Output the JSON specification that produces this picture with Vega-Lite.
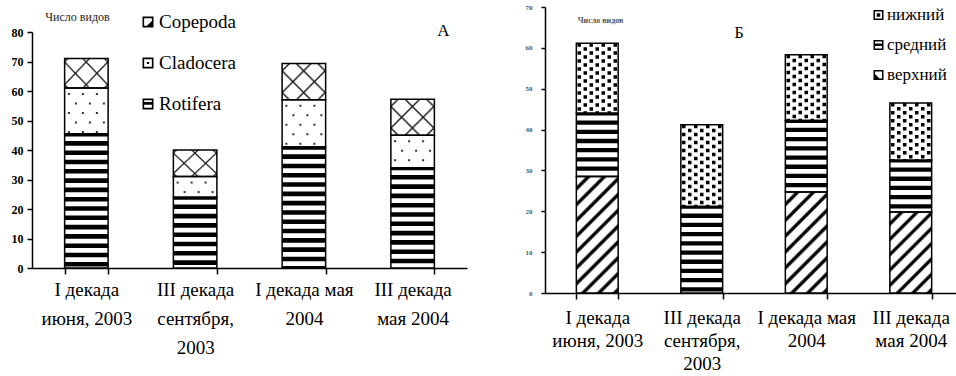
{
  "$schema": "https://vega.github.io/schema/vega-lite/v6.json",
  "width": 956,
  "height": 376,
  "autosize": {"type": "none"},
  "padding": 0,
  "background": "white",
  "config": {"view": {"stroke": null}, "font": "Times New Roman, Liberation Serif, serif"},
  "datasets": {
    "zoo": [
      {"period": "I  декада|июня, 2003", "group": "Rotifera", "n": 45.5},
      {"period": "I  декада|июня, 2003", "group": "Cladocera", "n": 15.5},
      {"period": "I  декада|июня, 2003", "group": "Copepoda", "n": 10},
      {"period": "III декада|сентября,|2003", "group": "Rotifera", "n": 24},
      {"period": "III декада|сентября,|2003", "group": "Cladocera", "n": 7},
      {"period": "III декада|сентября,|2003", "group": "Copepoda", "n": 9},
      {"period": "I декада мая|2004", "group": "Rotifera", "n": 41},
      {"period": "I декада мая|2004", "group": "Cladocera", "n": 16},
      {"period": "I декада мая|2004", "group": "Copepoda", "n": 12.3},
      {"period": "III декада|мая 2004", "group": "Rotifera", "n": 34},
      {"period": "III декада|мая 2004", "group": "Cladocera", "n": 11},
      {"period": "III декада|мая 2004", "group": "Copepoda", "n": 12.2}
    ],
    "depth": [
      {"period": "I  декада|июня, 2003", "level": "верхний", "n": 28.5},
      {"period": "I  декада|июня, 2003", "level": "средний", "n": 15.5},
      {"period": "I  декада|июня, 2003", "level": "нижний", "n": 17.1},
      {"period": "III декада|сентября,|2003", "level": "средний", "n": 21.2},
      {"period": "III декада|сентября,|2003", "level": "нижний", "n": 20},
      {"period": "I декада мая|2004", "level": "верхний", "n": 24.7},
      {"period": "I декада мая|2004", "level": "средний", "n": 17.5},
      {"period": "I декада мая|2004", "level": "нижний", "n": 16.1},
      {"period": "III декада|мая 2004", "level": "верхний", "n": 19.8},
      {"period": "III декада|мая 2004", "level": "средний", "n": 12.7},
      {"period": "III декада|мая 2004", "level": "нижний", "n": 14}
    ]
  },
  "layer": [
    {
      "data": {"name": "zoo"},
      "transform": [{"stack": "n", "groupby": ["period"], "as": ["y0", "y1"]}],
      "encoding": {
        "x": {
          "field": "period", "type": "nominal", "sort": null,
          "scale": {"range": [32, 467], "paddingInner": 0.6, "paddingOuter": 0.3},
          "axis": {
            "orient": "bottom", "offset": -108,
            "title": "А", "titleX": 443, "titleY": -238, "titleAngle": 0, "titleAlign": "center", "titleBaseline": "middle",
            "titleFont": "Times New Roman, Liberation Serif, serif", "titleFontSize": 17, "titleFontWeight": "normal", "titleColor": "black",
            "labelExpr": "split(datum.label, '|')", "labelAngle": 0, "labelFont": "Times New Roman, Liberation Serif, serif", "labelFontSize": 19,
            "labelLineHeight": 29, "labelColor": "black", "labelPadding": 6, "labelBaseline": "top", "labelLimit": 0,
            "domainColor": "black", "domainWidth": 1.5, "tickColor": "black", "tickWidth": 1.5, "tickSize": 6,
            "tickBand": "extent", "grid": false
          }
        },
        "y": {
          "field": "y1", "type": "quantitative",
          "scale": {"domain": [0, 80], "range": [268, 32], "nice": false},
          "axis": {
            "orient": "left", "offset": -32, "values": [0, 10, 20, 30, 40, 50, 60, 70, 80],
            "title": "Число видов", "titleX": 45, "titleY": 16, "titleAngle": 0, "titleAlign": "center", "titleBaseline": "middle",
            "titleFont": "Times New Roman, Liberation Serif, serif", "titleFontSize": 12, "titleFontWeight": "normal", "titleColor": "#222",
            "labelFont": "Times New Roman, Liberation Serif, serif", "labelFontSize": 12, "labelFontWeight": "bold", "labelColor": "black", "labelPadding": 4,
            "tickSize": 5, "tickColor": "black", "tickWidth": 1.5, "domainColor": "black", "domainWidth": 1.5, "grid": false
          }
        },
        "y2": {"field": "y0"}
      },
      "layer": [
        {"mark": {"type": "bar", "fill": "white", "stroke": null}},
        {"transform": [{"filter": "datum.group === 'Rotifera'"}],
         "mark": {"type": "rule", "color": "black", "strokeWidth": 43.5, "strokeDash": [4.6, 4.7], "strokeDashOffset": 2, "strokeCap": "butt"}},
        {"transform": [{"filter": "datum.group === 'Cladocera'"}],
         "mark": {"type": "rule", "color": "#333", "strokeWidth": 2, "strokeDash": [2, 17], "strokeDashOffset": 14, "xOffset": -17.5}},
        {"transform": [{"filter": "datum.group === 'Cladocera'"}],
         "mark": {"type": "rule", "color": "#333", "strokeWidth": 2, "strokeDash": [2, 17], "strokeDashOffset": 4.5, "xOffset": -10.5}},
        {"transform": [{"filter": "datum.group === 'Cladocera'"}],
         "mark": {"type": "rule", "color": "#333", "strokeWidth": 2, "strokeDash": [2, 17], "strokeDashOffset": 14, "xOffset": -3.5}},
        {"transform": [{"filter": "datum.group === 'Cladocera'"}],
         "mark": {"type": "rule", "color": "#333", "strokeWidth": 2, "strokeDash": [2, 17], "strokeDashOffset": 4.5, "xOffset": 3.5}},
        {"transform": [{"filter": "datum.group === 'Cladocera'"}],
         "mark": {"type": "rule", "color": "#333", "strokeWidth": 2, "strokeDash": [2, 17], "strokeDashOffset": 14, "xOffset": 10.5}},
        {"transform": [{"filter": "datum.group === 'Cladocera'"}],
         "mark": {"type": "rule", "color": "#333", "strokeWidth": 2, "strokeDash": [2, 17], "strokeDashOffset": 4.5, "xOffset": 17.5}},
        {"transform": [{"filter": "datum.group === 'Copepoda'"}],
         "mark": {"type": "bar", "stroke": null},
         "encoding": {"fill": {
           "condition": {"test": "datum.period === 'I  декада|июня, 2003' || datum.period === 'III декада|сентября,|2003'",
             "value": {"gradient": "linear", "x1": 0, "y1": 0, "x2": 1.1622, "y2": 0.7481, "stops": [
               {"offset": 0.02, "color": "rgba(0,0,0,0)"}, {"offset": 0.045, "color": "#222"}, {"offset": 0.07, "color": "rgba(0,0,0,0)"},
               {"offset": 0.321, "color": "rgba(0,0,0,0)"}, {"offset": 0.346, "color": "#222"}, {"offset": 0.371, "color": "rgba(0,0,0,0)"},
               {"offset": 0.622, "color": "rgba(0,0,0,0)"}, {"offset": 0.647, "color": "#222"}, {"offset": 0.672, "color": "rgba(0,0,0,0)"},
               {"offset": 0.923, "color": "rgba(0,0,0,0)"}, {"offset": 0.948, "color": "#222"}, {"offset": 0.973, "color": "rgba(0,0,0,0)"}]}},
           "value": {"gradient": "linear", "x1": 0, "y1": 0, "x2": 1.0847, "y2": 0.8977, "stops": [
               {"offset": 0.066, "color": "rgba(0,0,0,0)"}, {"offset": 0.091, "color": "#222"}, {"offset": 0.116, "color": "rgba(0,0,0,0)"},
               {"offset": 0.337, "color": "rgba(0,0,0,0)"}, {"offset": 0.362, "color": "#222"}, {"offset": 0.387, "color": "rgba(0,0,0,0)"},
               {"offset": 0.607, "color": "rgba(0,0,0,0)"}, {"offset": 0.632, "color": "#222"}, {"offset": 0.657, "color": "rgba(0,0,0,0)"},
               {"offset": 0.878, "color": "rgba(0,0,0,0)"}, {"offset": 0.903, "color": "#222"}, {"offset": 0.928, "color": "rgba(0,0,0,0)"}]}
         }}},
        {"transform": [{"filter": "datum.group === 'Copepoda'"}],
         "mark": {"type": "bar", "stroke": null},
         "encoding": {"fill": {
           "condition": {"test": "datum.period === 'I  декада|июня, 2003' || datum.period === 'III декада|сентября,|2003'",
             "value": {"gradient": "linear", "x1": 0, "y1": 1, "x2": 1.1622, "y2": 0.2519, "stops": [
               {"offset": 0.02, "color": "rgba(0,0,0,0)"}, {"offset": 0.045, "color": "#222"}, {"offset": 0.07, "color": "rgba(0,0,0,0)"},
               {"offset": 0.321, "color": "rgba(0,0,0,0)"}, {"offset": 0.346, "color": "#222"}, {"offset": 0.371, "color": "rgba(0,0,0,0)"},
               {"offset": 0.622, "color": "rgba(0,0,0,0)"}, {"offset": 0.647, "color": "#222"}, {"offset": 0.672, "color": "rgba(0,0,0,0)"},
               {"offset": 0.923, "color": "rgba(0,0,0,0)"}, {"offset": 0.948, "color": "#222"}, {"offset": 0.973, "color": "rgba(0,0,0,0)"}]}},
           "value": {"gradient": "linear", "x1": 0, "y1": 1, "x2": 1.0847, "y2": 0.1023, "stops": [
               {"offset": 0.066, "color": "rgba(0,0,0,0)"}, {"offset": 0.091, "color": "#222"}, {"offset": 0.116, "color": "rgba(0,0,0,0)"},
               {"offset": 0.337, "color": "rgba(0,0,0,0)"}, {"offset": 0.362, "color": "#222"}, {"offset": 0.387, "color": "rgba(0,0,0,0)"},
               {"offset": 0.607, "color": "rgba(0,0,0,0)"}, {"offset": 0.632, "color": "#222"}, {"offset": 0.657, "color": "rgba(0,0,0,0)"},
               {"offset": 0.878, "color": "rgba(0,0,0,0)"}, {"offset": 0.903, "color": "#222"}, {"offset": 0.928, "color": "rgba(0,0,0,0)"}]}
         }}},
        {"mark": {"type": "bar", "fill": "white", "fillOpacity": 0, "stroke": "black", "strokeWidth": 1.5}},
        {"mark": {"type": "point", "filled": true, "color": "black", "opacity": 0},
         "encoding": {"y2": null, "shape": {"field": "group", "type": "nominal",
           "scale": {"domain": ["Copepoda", "Cladocera", "Rotifera"],
             "range": ["M-1,-1H1V1H-1Z M-0.7,-0.7V0.7H0.7V-0.7Z M0.7,-0.2L0.7,0.7L-0.2,0.7Z",
                       "M-1,-1H1V1H-1Z M-0.7,-0.7V0.7H0.7V-0.7Z M-0.2,-0.2H0.2V0.2H-0.2Z",
                       "M-1,-1H1V1H-1Z M-0.7,-0.7V0.7H0.7V-0.7Z M-0.7,-0.35H0.7V0.15H-0.7Z"]},
           "legend": {"title": null, "orient": "none", "legendX": 138.5, "legendY": 12.5, "symbolSize": 121,
             "symbolFillColor": "black", "symbolStrokeWidth": 0, "symbolOpacity": 1,
             "labelFont": "Times New Roman, Liberation Serif, serif", "labelFontSize": 19, "labelColor": "black", "labelOffset": 1.5,
             "rowPadding": 21, "labelLimit": 0, "padding": 0}}}}
      ]
    },
    {
      "data": {"name": "depth"},
      "transform": [{"stack": "n", "groupby": ["period"], "as": ["y0", "y1"]}],
      "encoding": {
        "x": {
          "field": "period", "type": "nominal", "sort": null,
          "scale": {"range": [545, 963], "paddingInner": 0.6, "paddingOuter": 0.3},
          "axis": {
            "orient": "bottom", "offset": -83,
            "title": "Б", "titleX": 738.5, "titleY": -260.5, "titleAngle": 0, "titleAlign": "center", "titleBaseline": "middle",
            "titleFont": "Times New Roman, Liberation Serif, serif", "titleFontSize": 16, "titleFontWeight": "normal", "titleColor": "black",
            "labelExpr": "split(datum.label, '|')", "labelAngle": 0, "labelFont": "Times New Roman, Liberation Serif, serif", "labelFontSize": 19,
            "labelLineHeight": 23, "labelColor": "black", "labelPadding": 9, "labelBaseline": "top", "labelLimit": 0,
            "domainColor": "black", "domainWidth": 1.5, "tickColor": "black", "tickWidth": 1.5, "tickSize": 6,
            "tickBand": "extent", "grid": false
          }
        },
        "y": {
          "field": "y1", "type": "quantitative",
          "scale": {"domain": [0, 70], "range": [293, 7], "nice": false},
          "axis": {
            "orient": "left", "offset": -545, "values": [0, 10, 20, 30, 40, 50, 60, 70],
            "title": "Число видов", "titleX": 55, "titleY": 20.5, "titleAngle": 0, "titleAlign": "center", "titleBaseline": "middle",
            "titleFont": "Times New Roman, Liberation Serif, serif", "titleFontSize": 8, "titleFontWeight": "bold", "titleColor": "#555",
            "labelFont": "Times New Roman, Liberation Serif, serif", "labelFontSize": 7, "labelFontWeight": "bold", "labelColor": "#555", "labelPadding": 9,
            "tickSize": 4, "tickColor": "black", "tickWidth": 1.5, "domainColor": "black", "domainWidth": 1.5, "grid": false
          }
        },
        "y2": {"field": "y0"}
      },
      "layer": [
        {"mark": {"type": "bar", "fill": "white", "stroke": null}},
        {"transform": [{"filter": "datum.level === 'средний'"}],
         "mark": {"type": "rule", "color": "black", "strokeWidth": 41.8, "strokeDash": [4.3, 4.9], "strokeDashOffset": 2, "strokeCap": "butt"}},
        {"transform": [{"filter": "datum.level === 'нижний'"}],
         "mark": {"type": "rule", "color": "black", "strokeWidth": 3.5, "strokeDash": [3.5, 4.5], "strokeDashOffset": 0, "xOffset": -18}},
        {"transform": [{"filter": "datum.level === 'нижний'"}],
         "mark": {"type": "rule", "color": "black", "strokeWidth": 3.5, "strokeDash": [3.5, 4.5], "strokeDashOffset": 4, "xOffset": -12}},
        {"transform": [{"filter": "datum.level === 'нижний'"}],
         "mark": {"type": "rule", "color": "black", "strokeWidth": 3.5, "strokeDash": [3.5, 4.5], "strokeDashOffset": 0, "xOffset": -6}},
        {"transform": [{"filter": "datum.level === 'нижний'"}],
         "mark": {"type": "rule", "color": "black", "strokeWidth": 3.5, "strokeDash": [3.5, 4.5], "strokeDashOffset": 4, "xOffset": 0}},
        {"transform": [{"filter": "datum.level === 'нижний'"}],
         "mark": {"type": "rule", "color": "black", "strokeWidth": 3.5, "strokeDash": [3.5, 4.5], "strokeDashOffset": 0, "xOffset": 6}},
        {"transform": [{"filter": "datum.level === 'нижний'"}],
         "mark": {"type": "rule", "color": "black", "strokeWidth": 3.5, "strokeDash": [3.5, 4.5], "strokeDashOffset": 4, "xOffset": 12}},
        {"transform": [{"filter": "datum.level === 'нижний'"}],
         "mark": {"type": "rule", "color": "black", "strokeWidth": 3.5, "strokeDash": [3.5, 4.5], "strokeDashOffset": 0, "xOffset": 18}},
        {"transform": [{"filter": "datum.level === 'верхний'"}],
         "mark": {"type": "bar", "stroke": null},
         "encoding": {"fill": {
           "condition": [
             {"test": "datum.period === 'I  декада|июня, 2003'",
              "value": {"gradient": "linear", "x1": 0, "y1": 0, "x2": 0.4319, "y2": 1.2038, "stops": [
                {"offset": 0, "color": "#fff"}, {"offset": 0.055, "color": "#fff"}, {"offset": 0.07, "color": "#000"}, {"offset": 0.085, "color": "#000"},
                {"offset": 0.1, "color": "#fff"}, {"offset": 0.155, "color": "#fff"}, {"offset": 0.17, "color": "#000"}, {"offset": 0.185, "color": "#000"},
                {"offset": 0.2, "color": "#fff"}, {"offset": 0.255, "color": "#fff"}, {"offset": 0.27, "color": "#000"}, {"offset": 0.285, "color": "#000"},
                {"offset": 0.3, "color": "#fff"}, {"offset": 0.355, "color": "#fff"}, {"offset": 0.37, "color": "#000"}, {"offset": 0.385, "color": "#000"},
                {"offset": 0.4, "color": "#fff"}, {"offset": 0.455, "color": "#fff"}, {"offset": 0.47, "color": "#000"}, {"offset": 0.485, "color": "#000"},
                {"offset": 0.5, "color": "#fff"}, {"offset": 0.555, "color": "#fff"}, {"offset": 0.57, "color": "#000"}, {"offset": 0.585, "color": "#000"},
                {"offset": 0.6, "color": "#fff"}, {"offset": 0.655, "color": "#fff"}, {"offset": 0.67, "color": "#000"}, {"offset": 0.685, "color": "#000"},
                {"offset": 0.7, "color": "#fff"}, {"offset": 0.755, "color": "#fff"}, {"offset": 0.77, "color": "#000"}, {"offset": 0.785, "color": "#000"},
                {"offset": 0.8, "color": "#fff"}, {"offset": 0.855, "color": "#fff"}, {"offset": 0.87, "color": "#000"}, {"offset": 0.885, "color": "#000"},
                {"offset": 0.9, "color": "#fff"}, {"offset": 0.955, "color": "#fff"}, {"offset": 0.97, "color": "#000"}, {"offset": 0.985, "color": "#000"},
                {"offset": 1, "color": "#fff"}]}},
             {"test": "datum.period === 'I декада мая|2004'",
              "value": {"gradient": "linear", "x1": 0, "y1": 0, "x2": 0.5001, "y2": 1.2071, "stops": [
                {"offset": 0, "color": "#fff"}, {"offset": 0.0611, "color": "#fff"}, {"offset": 0.0778, "color": "#000"}, {"offset": 0.0944, "color": "#000"},
                {"offset": 0.1111, "color": "#fff"}, {"offset": 0.1722, "color": "#fff"}, {"offset": 0.1889, "color": "#000"}, {"offset": 0.2056, "color": "#000"},
                {"offset": 0.2222, "color": "#fff"}, {"offset": 0.2833, "color": "#fff"}, {"offset": 0.3, "color": "#000"}, {"offset": 0.3167, "color": "#000"},
                {"offset": 0.3333, "color": "#fff"}, {"offset": 0.3944, "color": "#fff"}, {"offset": 0.4111, "color": "#000"}, {"offset": 0.4278, "color": "#000"},
                {"offset": 0.4444, "color": "#fff"}, {"offset": 0.5056, "color": "#fff"}, {"offset": 0.5222, "color": "#000"}, {"offset": 0.5389, "color": "#000"},
                {"offset": 0.5556, "color": "#fff"}, {"offset": 0.6167, "color": "#fff"}, {"offset": 0.6333, "color": "#000"}, {"offset": 0.65, "color": "#000"},
                {"offset": 0.6667, "color": "#fff"}, {"offset": 0.7278, "color": "#fff"}, {"offset": 0.7444, "color": "#000"}, {"offset": 0.7611, "color": "#000"},
                {"offset": 0.7778, "color": "#fff"}, {"offset": 0.8389, "color": "#fff"}, {"offset": 0.8556, "color": "#000"}, {"offset": 0.8722, "color": "#000"},
                {"offset": 0.8889, "color": "#fff"}, {"offset": 0.95, "color": "#fff"}, {"offset": 0.9667, "color": "#000"}, {"offset": 0.9833, "color": "#000"},
                {"offset": 1, "color": "#fff"}]}}
           ],
           "value": {"gradient": "linear", "x1": 0, "y1": 0, "x2": 0.6185, "y2": 1.1971, "stops": [
                {"offset": 0, "color": "#fff"}, {"offset": 0.06875, "color": "#fff"}, {"offset": 0.0875, "color": "#000"}, {"offset": 0.10625, "color": "#000"},
                {"offset": 0.125, "color": "#fff"}, {"offset": 0.19375, "color": "#fff"}, {"offset": 0.2125, "color": "#000"}, {"offset": 0.23125, "color": "#000"},
                {"offset": 0.25, "color": "#fff"}, {"offset": 0.31875, "color": "#fff"}, {"offset": 0.3375, "color": "#000"}, {"offset": 0.35625, "color": "#000"},
                {"offset": 0.375, "color": "#fff"}, {"offset": 0.44375, "color": "#fff"}, {"offset": 0.4625, "color": "#000"}, {"offset": 0.48125, "color": "#000"},
                {"offset": 0.5, "color": "#fff"}, {"offset": 0.56875, "color": "#fff"}, {"offset": 0.5875, "color": "#000"}, {"offset": 0.60625, "color": "#000"},
                {"offset": 0.625, "color": "#fff"}, {"offset": 0.69375, "color": "#fff"}, {"offset": 0.7125, "color": "#000"}, {"offset": 0.73125, "color": "#000"},
                {"offset": 0.75, "color": "#fff"}, {"offset": 0.81875, "color": "#fff"}, {"offset": 0.8375, "color": "#000"}, {"offset": 0.85625, "color": "#000"},
                {"offset": 0.875, "color": "#fff"}, {"offset": 0.94375, "color": "#fff"}, {"offset": 0.9625, "color": "#000"}, {"offset": 0.98125, "color": "#000"},
                {"offset": 1, "color": "#fff"}]}
         }}},
        {"mark": {"type": "bar", "fill": "white", "fillOpacity": 0, "stroke": "black", "strokeWidth": 1.5}},
        {"mark": {"type": "point", "filled": true, "color": "black", "opacity": 0},
         "encoding": {"y2": null, "shape": {"field": "level", "type": "nominal",
           "scale": {"domain": ["нижний", "средний", "верхний"],
             "range": ["M-1,-1H1V1H-1Z M-0.7,-0.7V0.7H0.7V-0.7Z M-0.35,-0.35H0.35V0.35H-0.35Z",
                       "M-1,-1H1V1H-1Z M-0.7,-0.7V0.7H0.7V-0.7Z M-0.7,-0.3H0.7V0.2H-0.7Z",
                       "M-1,-1H1V1H-1Z M-0.7,-0.7V0.7H0.7V-0.7Z M-0.7,-0.2L0.2,0.7L-0.7,0.7Z"]},
           "legend": {"title": null, "orient": "none", "legendX": 870, "legendY": 6.5, "symbolSize": 100,
             "symbolFillColor": "black", "symbolStrokeWidth": 0, "symbolOpacity": 1,
             "labelFont": "Times New Roman, Liberation Serif, serif", "labelFontSize": 17, "labelColor": "black", "labelOffset": 0,
             "rowPadding": 12, "labelLimit": 0, "padding": 0}}}}
      ]
    }
  ],
  "resolve": {
    "scale": {"x": "independent", "y": "independent", "shape": "independent"},
    "axis": {"x": "independent", "y": "independent"},
    "legend": {"shape": "independent"}
  }
}
